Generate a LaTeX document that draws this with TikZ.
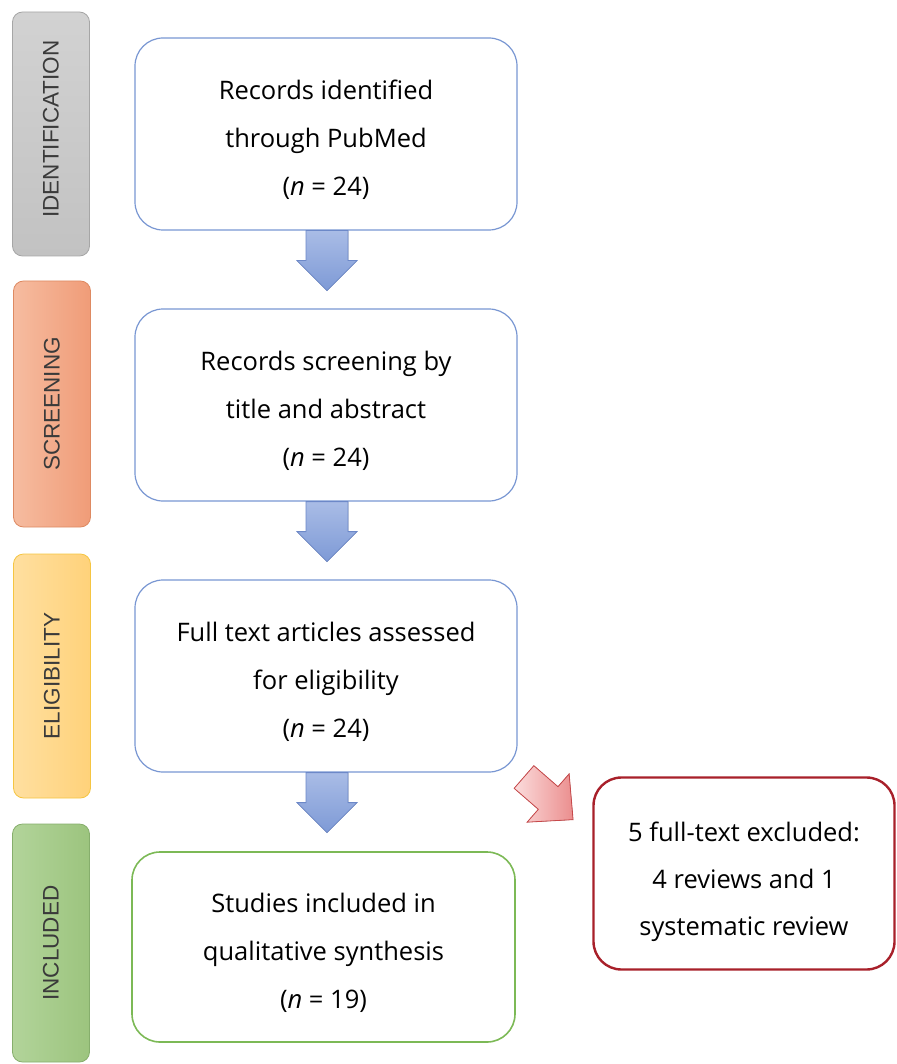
\documentclass[tikz,border=0pt]{standalone}
\usepackage{fontspec}
\setmainfont{Open Sans}
\newfontfamily\sidefont{Liberation Sans}
\usetikzlibrary{calc}
\definecolor{boxblue}{HTML}{7896D2}
\definecolor{arrowblueA}{HTML}{A9BCE6}
\definecolor{arrowblueB}{HTML}{7E9AD6}
\definecolor{arrowblueD}{HTML}{6C88C8}
\definecolor{boxgreen}{HTML}{7CB956}
\definecolor{boxred}{HTML}{A8202A}
\definecolor{redarrA}{HTML}{FBDCDC}
\definecolor{redarrB}{HTML}{EB8E8E}
\definecolor{redarrD}{HTML}{C8484A}
\definecolor{grayA}{HTML}{D2D2D2}
\definecolor{grayB}{HTML}{C2C2C2}
\definecolor{grayD}{HTML}{A6A6A6}
\definecolor{orgA}{HTML}{F6BCA0}
\definecolor{orgB}{HTML}{F09C78}
\definecolor{orgD}{HTML}{DE8A62}
\definecolor{ylwA}{HTML}{FFDFA0}
\definecolor{ylwB}{HTML}{FFD27A}
\definecolor{ylwD}{HTML}{F5C542}
\definecolor{grnA}{HTML}{B2D49A}
\definecolor{grnB}{HTML}{9CC47E}
\definecolor{grnD}{HTML}{86AE6C}
\definecolor{sidetext}{HTML}{3A3A3A}
\newcommand\tstrut{\rule{0pt}{31pt}}
\newcommand\rstrut{\rule{0pt}{36pt}}
\newcommand\blockarrow[1]{%
  \filldraw[bluearrow] ($(#1)+(-21,0)$) -- ++(0,30) -- ++(-9,0) -- ++(30,30)
    -- ++(30,-30) -- ++(-9,0) -- ++(0,-30) -- cycle;}
\begin{document}
\begin{tikzpicture}[x=1pt,y=-1pt,
  mainbox/.style={draw=boxblue, line width=1.2pt, rounded corners=28pt,
    minimum width=382pt, minimum height=192pt, align=center, inner sep=0pt,
    font=\fontsize{25.5}{48}\selectfont},
  sidebox/.style={rounded corners=10pt, line width=0.8pt, minimum width=77pt, inner sep=0pt},
  sidelabel/.style={rotate=90, text=sidetext, font=\sidefont\fontsize{22.5}{24}\selectfont},
  bluearrow/.style={draw=arrowblueD, line width=0.8pt, top color=arrowblueA, bottom color=arrowblueB},
  redarrow/.style={draw=redarrD, line width=0.8pt, left color=redarrA, right color=redarrB}
]
\useasboundingbox (0,0) rectangle (896,1064);

% side bars
\node[sidebox, draw=grayD, top color=grayA, bottom color=grayB, minimum height=244pt] (s1) at (51,134) {};
\node[sidelabel] at (51,129) {IDENTIFICATION};
\node[sidebox, draw=orgD, left color=orgA, right color=orgB, minimum height=246pt] (s2) at (52,404) {};
\node[sidelabel] at (52,404) {SCREENING};
\node[sidebox, draw=ylwD, left color=ylwA, right color=ylwB, minimum height=244pt] (s3) at (52,676) {};
\node[sidelabel] at (52,676) {ELIGIBILITY};
\node[sidebox, draw=grnD, left color=grnA, right color=grnB, minimum height=238pt] (s4) at (51,943) {};
\node[sidelabel] at (51,943) {INCLUDED};

% main boxes
\node[mainbox] (b1) at (326,134) {\tstrut Records identified\\through PubMed\\(\textit{n} = 24)};
\node[mainbox] (b2) at (326,405) {\tstrut Records screening by\\title and abstract\\(\textit{n} = 24)};
\node[mainbox] (b3) at (326,676) {\tstrut Full text articles assessed\\for eligibility\\(\textit{n} = 24)};
\node[mainbox, draw=boxgreen, line width=1.6pt, minimum width=383pt, minimum height=190pt] (b4) at (323.5,947)
  {\tstrut Studies included in\\qualitative synthesis\\(\textit{n} = 19)};
\node[mainbox, draw=boxred, line width=2.4pt, minimum width=301pt, minimum height=192pt,
  font=\fontsize{25.5}{47}\selectfont] (ex) at (744,873.5)
  {\rstrut 5 full-text excluded:\\4 reviews and 1\\systematic review};

% block arrows
\blockarrow{$(b1.south)+(1,0)$}
\blockarrow{$(b2.south)+(1,0)$}
\blockarrow{$(b3.south)+(1,0)$}

% diagonal red arrow
\begin{scope}[shift={(524,777)}, rotate=-41]
  \filldraw[redarrow] (0,-15) -- (32,-15) -- (32,-32) -- (65,0) -- (32,32) -- (32,15) -- (0,15) -- cycle;
\end{scope}
\end{tikzpicture}
\end{document}
